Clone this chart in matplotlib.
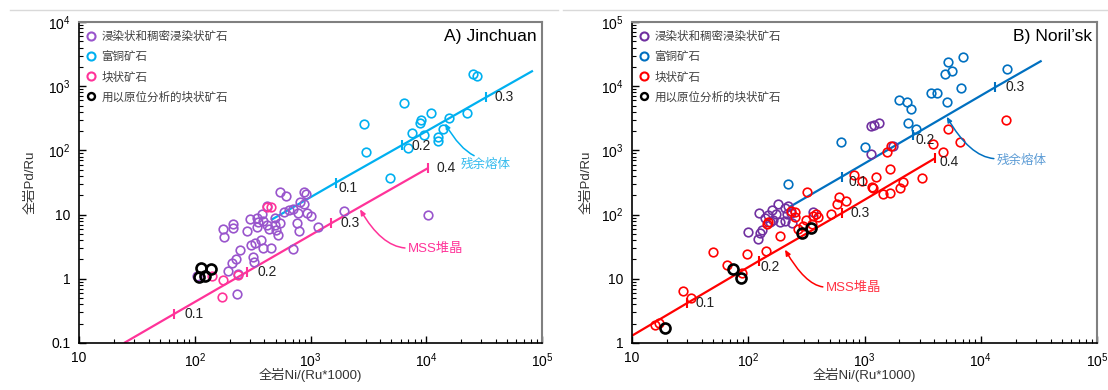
import matplotlib
matplotlib.use("Agg")
import matplotlib.pyplot as plt
from matplotlib.lines import Line2D
from matplotlib.ticker import FixedLocator, FixedFormatter, LogLocator, NullFormatter

plt.rcParams['font.family'] = ['Liberation Sans', 'Noto Sans CJK SC', 'DejaVu Sans']

# ---------------- data: A) Jinchuan ----------------
jc_dis_x = [545, 611, 884, 914, 811, 652, 710, 594, 785, 378, 300, 343, 354, 391, 215, 213, 174, 180,
            281, 343, 419, 441, 493, 503, 527, 761, 796, 927, 1005, 1166, 1960, 304, 331, 373, 391, 456,
            246, 321, 325, 227, 208, 193, 238, 230, 702, 104, 10280, 493, 545, 884, 419]
jc_dis_y = [22.7, 19.7, 22.2, 20.9, 15.9, 11.8, 12.1, 11.1, 10.7, 10.1, 8.5, 9.0, 7.7, 8.0, 7.1, 6.1, 5.9, 4.5,
            5.5, 6.3, 6.9, 5.9, 6.9, 5.8, 4.8, 7.3, 5.6, 10.5, 9.5, 6.5, 11.5, 3.4, 3.6, 4.0, 3.0, 3.05,
            2.8, 2.16, 1.83, 2.0, 1.74, 1.32, 1.17, 0.58, 2.9, 1.1, 9.9, 8.75, 7.3, 14.6, 13.6]
jc_cu_x = [25500, 27300, 6460, 10900, 9020, 8840, 15800, 22600, 7480, 9570, 13900, 12700, 12600, 2920,
           3010, 7000, 4860]
jc_cu_y = [1549, 1460, 542, 378, 298, 264, 323, 378, 185, 174, 213, 160, 142, 255, 95.5, 108, 36.7]
jc_mas_x = [424, 458, 141, 177, 171, 235]
jc_mas_y = [13.3, 13.3, 1.1, 0.96, 0.53, 1.15]
jc_insitu_x = [113, 137, 109, 122]
jc_insitu_y = [1.49, 1.41, 1.05, 1.1]
# model curves (start, tick points ..., end)
jc_melt_x = [456, 1652, 6140, 32800, 83500]
jc_melt_y = [8.25, 31.4, 120, 671, 1742]
jc_melt_ticks = ['', '0.1', '0.2', '0.3', '']
jc_mss_x = [24.5, 66.2, 284, 1503, 10280]
jc_mss_y = [0.1, 0.283, 1.29, 7.3, 52.6]
jc_mss_ticks = ['', '0.1', '0.2', '0.3', '0.4']

# ---------------- data: B) Noril'sk ----------------
nk_dis_x = [99, 122, 126, 131, 124, 139, 148, 154, 163, 173, 180, 160, 188, 207, 236, 217, 221, 207, 233,
            363, 1130, 1213, 1325, 1138, 1770]
nk_dis_y = [54, 41.7, 52.2, 57.5, 105, 88.5, 98.6, 76.7, 82.4, 102, 145, 118, 77.5, 80.4, 74.8, 101, 136,
            125, 106, 111, 2399, 2488, 2643, 869, 1184]
nk_cu_x = [221, 624, 1016, 2355, 2775, 1982, 2306, 2529, 5095, 3733, 4230, 6761, 4921, 5690, 5196, 7000, 16710]
nk_cu_y = [303, 1337, 1142, 2643, 2132, 6095, 5675, 4367, 5613, 7925, 7925, 9479, 15500, 17430, 23830,
           28190, 18330]
nk_mas_x = [15.8, 17.2, 27.6, 32, 50, 65.3, 88.9, 97, 143.5, 189, 144, 149, 232, 252, 252, 320, 266, 294,
            312, 351, 363, 381, 401, 515, 607, 689, 576, 817, 957, 1257, 1667, 2133, 3105, 1153, 1191,
            1435, 1655, 2018, 1553, 1690, 3909, 4765, 5260, 6640, 16400]
nk_mas_y = [1.91, 2.03, 6.53, 4.97, 25.7, 16.4, 12.5, 24.6, 27.1, 47.2, 70.6, 75.9, 114, 109, 92.7, 221,
            59, 66.4, 83.3, 71.4, 95.1, 101, 92.8, 102, 190, 163, 146, 414, 334, 385, 508, 325, 368, 266,
            257, 207, 215, 257, 934, 1184, 1259, 944, 2132, 1352, 2977]
nk_insitu_x = [19.2, 74.3, 86.7, 288, 347]
nk_insitu_y = [1.73, 14.2, 10.2, 51.7, 61.8]
nk_melt_x = [229, 637, 2630, 13280, 33400]
nk_melt_y = [133, 389, 1738, 9610, 24950]
nk_melt_ticks = ['', '0.1', '0.2', '0.3', '']
nk_mss_x = [10, 29.6, 124, 637, 4035]
nk_mss_y = [1.30, 4.15, 19.1, 105, 753]
nk_mss_ticks = ['', '0.1', '0.2', '0.3', '0.4']

legend_labels = ['浸染状和稠密浸染状矿石', '富铜矿石', '块状矿石', '用以原位分析的块状矿石']
x_ticks = [10, 1e2, 1e3, 1e4, 1e5]
x_ticklabels = ['10', r'$\mathdefault{10^{2}}$', r'$\mathdefault{10^{3}}$', r'$\mathdefault{10^{4}}$',
                r'$\mathdefault{10^{5}}$']
jc_y_ticks = [0.1, 1, 10, 1e2, 1e3, 1e4]
jc_y_ticklabels = ['0.1', '1', '10', r'$\mathdefault{10^{2}}$', r'$\mathdefault{10^{3}}$', r'$\mathdefault{10^{4}}$']
nk_y_ticks = [1, 10, 1e2, 1e3, 1e4, 1e5]
nk_y_ticklabels = ['1', '10', r'$\mathdefault{10^{2}}$', r'$\mathdefault{10^{3}}$', r'$\mathdefault{10^{4}}$',
                   r'$\mathdefault{10^{5}}$']

fig = plt.figure(figsize=(11.08, 3.90), dpi=100)
fig.add_artist(Line2D([10/1108, 558/1108], [380/390, 380/390], color='#d9d9d9', lw=1))
fig.add_artist(Line2D([563/1108, 1.0], [380/390, 380/390], color='#d9d9d9', lw=1))

ax1 = fig.add_axes([79/1108, 47/390, 463/1108, 321/390])
ax2 = fig.add_axes([632/1108, 47/390, 465/1108, 321/390])


def style_axes(ax, yticks, yticklabels, ylim, ylab_x):
    ax.set_xscale('log')
    ax.set_yscale('log')
    ax.set_xlim(10, 1e5)
    ax.set_ylim(*ylim)
    ax.xaxis.set_major_locator(FixedLocator(x_ticks))
    ax.xaxis.set_major_formatter(FixedFormatter(x_ticklabels))
    ax.yaxis.set_major_locator(FixedLocator(yticks))
    ax.yaxis.set_major_formatter(FixedFormatter(yticklabels))
    ax.xaxis.set_minor_locator(LogLocator(base=10, subs=range(2, 10), numticks=20))
    ax.yaxis.set_minor_locator(LogLocator(base=10, subs=range(2, 10), numticks=20))
    ax.xaxis.set_minor_formatter(NullFormatter())
    ax.yaxis.set_minor_formatter(NullFormatter())
    ax.tick_params(which='both', direction='in', top=False, right=False, labelsize=10, colors='black')
    ax.tick_params(which='major', length=5, width=1, pad=6)
    ax.tick_params(which='minor', length=3, width=0.8)
    for s in ['left', 'bottom']:
        ax.spines[s].set_color('black')
        ax.spines[s].set_linewidth(1.2)
    for s in ['top', 'right']:
        ax.spines[s].set_color('#808080')
        ax.spines[s].set_linewidth(1.5)
    ax.set_xlabel('全岩Ni/(Ru*1000)', fontsize=9.5, color='#333333')
    ax.set_ylabel('全岩Pd/Ru', fontsize=9.5, color='#333333')
    ax.xaxis.set_label_coords(0.5, -0.10)
    ax.xaxis.label.set_va('center')
    ax.yaxis.set_label_coords(ylab_x, 0.5)
    ax.yaxis.label.set_va('center')


def draw_model(ax, xs, ys, ticks, color, offsets):
    ax.plot(xs, ys, color=color, lw=1.6, zorder=2, solid_capstyle='butt')
    tx = [x for x, t in zip(xs, ticks) if t]
    ty = [y for y, t in zip(ys, ticks) if t]
    ax.plot(tx, ty, ls='none', marker='|', ms=7, mew=1.5, color=color, zorder=2)
    k = 0
    for x, y, t in zip(xs, ys, ticks):
        if t:
            dx, dy = offsets[k]
            ax.annotate(t, (x, y), xytext=(dx * 0.72, -dy * 0.72), textcoords='offset points',
                        ha='left', va='center', fontsize=10, color='#222222', zorder=4)
            k += 1


def draw_points(ax, xs, ys, color, ms=6.2, mew=1.2, z=3):
    ax.plot(xs, ys, ls='none', marker='o', ms=ms, mfc='none', mec=color, mew=mew, zorder=z)


def legend(ax, colors):
    handles = [Line2D([], [], ls='none', marker='o', ms=5.8, mfc='none', mec=c, mew=1.5) for c in colors]
    handles[-1] = Line2D([], [], ls='none', marker='o', ms=5.0, mfc='none', mec='black', mew=1.7)
    leg = ax.legend(handles, legend_labels, loc='upper left', bbox_to_anchor=(0.015, 0.975),
                    frameon=False, borderpad=0, borderaxespad=0, handlelength=0.8, handletextpad=0.55,
                    labelspacing=0.62, prop={'family': ['Noto Sans CJK SC'], 'size': 8.3})
    for t in leg.get_texts():
        t.set_color('#404040')


# ---------------- panel A ----------------
style_axes(ax1, jc_y_ticks, jc_y_ticklabels, (0.1, 1e4), -0.104)
c_pur, c_cy, c_pk = '#9955cc', '#00b0f0', '#ff3399'
draw_model(ax1, jc_melt_x, jc_melt_y, jc_melt_ticks, c_cy, [(2.5, 5), (10, 1), (9, 0)])
draw_model(ax1, jc_mss_x, jc_mss_y, jc_mss_ticks, c_pk, [(10, 0), (10, 0), (10, 0), (9, 0)])
draw_points(ax1, jc_dis_x, jc_dis_y, c_pur)
draw_points(ax1, jc_cu_x, jc_cu_y, c_cy)
draw_points(ax1, jc_mas_x, jc_mas_y, c_pk)
draw_points(ax1, jc_insitu_x, jc_insitu_y, 'black', ms=7.2, mew=1.9, z=4)
ax1.text(0.989, 0.956, 'A) Jinchuan', transform=ax1.transAxes, ha='right', va='center', fontsize=12.6)
ax1.annotate('残余熔体', xy=(14520, 264), xytext=(32500, 59.3), textcoords='data',
             ha='center', va='center', fontsize=9, color='#33bbee',
             family=['Noto Sans CJK SC'],
             arrowprops=dict(arrowstyle='-|>,head_length=0.35,head_width=0.15', color=c_cy, lw=1.1,
                             shrinkA=0, shrinkB=0, relpos=(0.5, 1.0),
                             connectionstyle='angle3,angleA=180,angleB=-60'))
ax1.annotate('MSS堆晶', xy=(2680, 12.1), xytext=(6920, 2.88), textcoords='data',
             ha='left', va='center', fontsize=9.5, color=c_pk,
             arrowprops=dict(arrowstyle='-|>,head_length=0.35,head_width=0.15', color=c_pk, lw=1.1,
                             shrinkA=0, shrinkB=0, relpos=(0.0, 0.6),
                             connectionstyle='angle3,angleA=180,angleB=-60'))
legend(ax1, [c_pur, c_cy, c_pk, 'black'])

# ---------------- panel B ----------------
style_axes(ax2, nk_y_ticks, nk_y_ticklabels, (1, 1e5), -0.097)
n_pur, n_bl, n_rd = '#7030a0', '#0070c0', '#ff0000'
draw_model(ax2, nk_melt_x, nk_melt_y, nk_melt_ticks, n_bl, [(6.6, 5), (2.4, 5), (10.7, 0)])
draw_model(ax2, nk_mss_x, nk_mss_y, nk_mss_ticks, n_rd, [(9, 0), (1, 6), (9, 0), (5, 4)])
draw_points(ax2, nk_dis_x, nk_dis_y, n_pur)
draw_points(ax2, nk_cu_x, nk_cu_y, n_bl)
draw_points(ax2, nk_mas_x, nk_mas_y, n_rd)
draw_points(ax2, nk_insitu_x, nk_insitu_y, 'black', ms=7.2, mew=1.9, z=4)
ax2.text(0.989, 0.956, 'B) Noril\u2019sk', transform=ax2.transAxes, ha='right', va='center', fontsize=12.6)
ax2.annotate('残余熔体', xy=(5095, 3350), xytext=(13700, 708), textcoords='data',
             ha='left', va='center', fontsize=9, color='#5b9bd5',
             family=['Noto Sans CJK SC'],
             arrowprops=dict(arrowstyle='-|>,head_length=0.35,head_width=0.15', color=n_bl, lw=1.1,
                             shrinkA=0, shrinkB=0, relpos=(0.0, 0.6),
                             connectionstyle='angle3,angleA=180,angleB=-60'))
ax2.annotate('MSS堆晶', xy=(207, 28.5), xytext=(463, 7.11), textcoords='data',
             ha='left', va='center', fontsize=9.5, color='#ff3344',
             arrowprops=dict(arrowstyle='-|>,head_length=0.35,head_width=0.15', color=n_rd, lw=1.1,
                             shrinkA=0, shrinkB=0, relpos=(0.0, 0.6),
                             connectionstyle='angle3,angleA=180,angleB=-60'))
legend(ax2, [n_pur, n_bl, n_rd, 'black'])

fig.savefig('out.png', dpi=100)
